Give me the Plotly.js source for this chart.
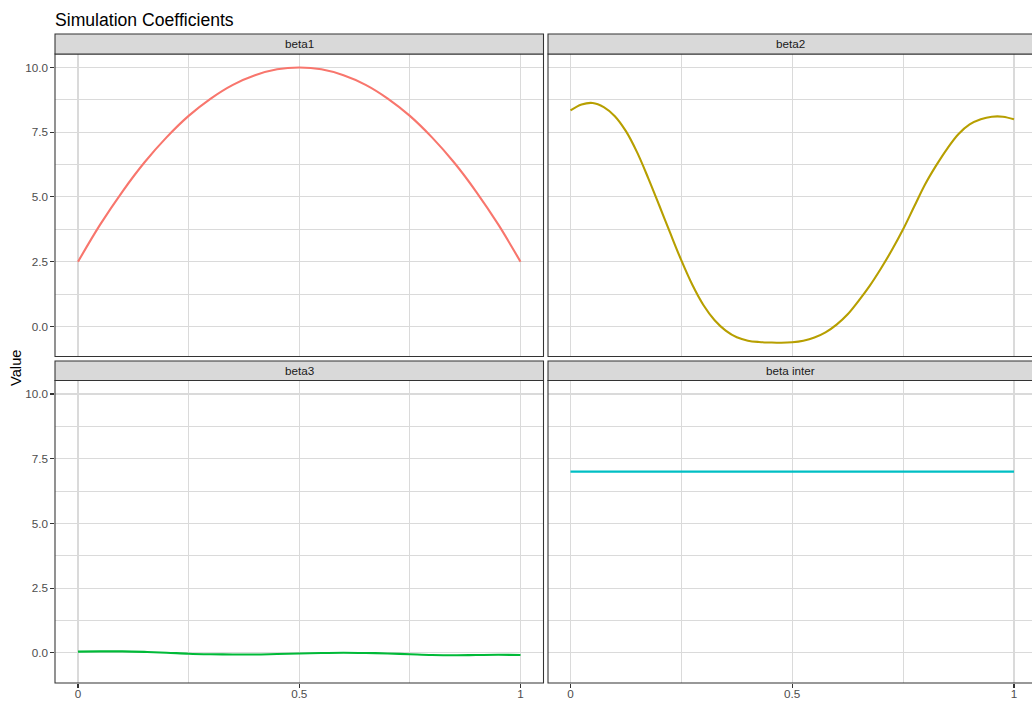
<!DOCTYPE html>
<html>
<head>
<meta charset="utf-8">
<script src="https://cdn.plot.ly/plotly-3.0.1.min.js"></script>
<style>
  html, body { margin: 0; padding: 0; background: #ffffff; }
  #chart { width: 1032px; height: 702px; }
</style>
</head>
<body>
<div id="chart"></div>
<script>
// ---- data ----
const panelNames = ["beta1", "beta2", "beta3", "beta inter"];
const xCoarse = [0, 0.05, 0.1, 0.15, 0.2, 0.25, 0.3, 0.35, 0.4, 0.45, 0.5,
                 0.55, 0.6, 0.65, 0.7, 0.75, 0.8, 0.85, 0.9, 0.95, 1];
const xFine = [0, 0.025, 0.05, 0.075, 0.1, 0.125, 0.15, 0.175, 0.2, 0.225, 0.25,
               0.275, 0.3, 0.325, 0.35, 0.375, 0.4, 0.425, 0.45, 0.475, 0.5,
               0.525, 0.55, 0.575, 0.6, 0.625, 0.65, 0.675, 0.7, 0.725, 0.75,
               0.775, 0.8, 0.825, 0.85, 0.875, 0.9, 0.925, 0.95, 0.975, 1];
const beta1 = [2.5, 3.93, 5.2, 6.33, 7.3, 8.13, 8.8, 9.33, 9.7, 9.93, 10,
               9.93, 9.7, 9.33, 8.8, 8.13, 7.3, 6.33, 5.2, 3.93, 2.5];
const beta2 = [8.34, 8.57, 8.63, 8.47, 8.12, 7.54, 6.73, 5.74, 4.68, 3.6, 2.55,
               1.6, 0.82, 0.24, -0.16, -0.42, -0.55, -0.6, -0.62, -0.63, -0.61,
               -0.55, -0.43, -0.23, 0.07, 0.47, 1.0, 1.58, 2.24, 2.96, 3.75,
               4.63, 5.5, 6.23, 6.88, 7.43, 7.8, 8.0, 8.1, 8.1, 8.0];
const beta3 = [0.05, 0.06, 0.06, 0.04, 0.01, -0.03, -0.05, -0.06, -0.06, -0.04, -0.02,
               0.0, 0.01, 0.0, -0.02, -0.05, -0.08, -0.09, -0.08, -0.07, -0.08];
const betaInter = [7, 7, 7, 7, 7, 7, 7, 7, 7, 7, 7,
                   7, 7, 7, 7, 7, 7, 7, 7, 7, 7];
const seriesColors = ["#F8766D", "#B79F00", "#00BA38", "#00BFC4"];
const yTickVals = [0, 2.5, 5, 7.5, 10];
const xTickVals = [0, 0.5, 1];
const xTickText = ["0", "0.5", "1"];

// ---- geometry ----
const W = 1032, H = 702;
const px = v => v / W;
const py = v => 1 - v / H;
const colDom = [[px(55), px(543.5)], [px(548), 1]];
const rowDom = [[py(356.5), py(54)], [py(683), py(380.5)]];
const stripDom = [[py(54), py(34)], [py(380.5), py(361)]];

const FONT = "Liberation Sans, Arial, Helvetica, sans-serif";
const gridCol = "#dadada";
const allSeries = [
  { x: xCoarse, y: beta1 },
  { x: xFine, y: beta2 },
  { x: xCoarse, y: beta3 },
  { x: xCoarse, y: betaInter }
];

const traces = allSeries.map((s, i) => ({
  type: "scatter",
  mode: "lines",
  x: s.x,
  y: s.y,
  xaxis: i === 0 ? "x" : "x" + (i + 1),
  yaxis: i === 0 ? "y" : "y" + (i + 1),
  line: { color: seriesColors[i], width: 2.1, shape: "spline", smoothing: 1 },
  hoverinfo: "skip",
  showlegend: false
}));

function xAxis(col, row) {
  const bottom = row === 1;
  const idx = row * 2 + col + 1;
  return {
    domain: colDom[col],
    anchor: "y" + (idx === 1 ? "" : idx),
    range: col === 0 ? [-0.052, 1.052] : [-0.0507, 1.0406],
    tickvals: xTickVals,
    ticktext: xTickText,
    showticklabels: bottom,
    ticks: bottom ? "outside" : "",
    ticklen: 3.7, tickwidth: 1.07, tickcolor: "#333333",
    ticklabelstandoff: -4,
    tickfont: { family: FONT, size: 11.7, color: "#4d4d4d" },
    showgrid: true, gridcolor: gridCol, gridwidth: 1.07,
    minor: { dtick: 0.25, tick0: 0, showgrid: true, gridcolor: gridCol, gridwidth: 1, ticks: "" },
    zeroline: false, showline: false, fixedrange: true
  };
}
function yAxis(col, row) {
  const left = col === 0;
  const idx = row * 2 + col + 1;
  return {
    domain: rowDom[row],
    anchor: "x" + (idx === 1 ? "" : idx),
    range: [-1.16, 10.52],
    tickvals: yTickVals,
    tickformat: ".1f",
    showticklabels: left,
    ticks: left ? "outside" : "",
    ticklen: 3.7, tickwidth: 1.07, tickcolor: "#333333",
    tickfont: { family: FONT, size: 11.7, color: "#4d4d4d" },
    showgrid: true, gridcolor: gridCol, gridwidth: 1.07,
    minor: { dtick: 1.25, tick0: 0, showgrid: true, gridcolor: gridCol, gridwidth: 1, ticks: "" },
    zeroline: false, showline: false, fixedrange: true
  };
}

const layout = {
  width: W, height: H,
  margin: { l: 0, r: 0, t: 0, b: 0, pad: 0 },
  paper_bgcolor: "#ffffff",
  plot_bgcolor: "#ffffff",
  font: { family: FONT, color: "#000000" },
  title: {
    text: "Simulation Coefficients",
    x: px(55), xanchor: "left", xref: "paper",
    y: py(20), yanchor: "middle", yref: "container",
    font: { family: FONT, size: 17.6, color: "#000000" }
  },
  shapes: [],
  annotations: []
};

for (let row = 0; row < 2; row++) {
  for (let col = 0; col < 2; col++) {
    const idx = row * 2 + col + 1;
    const s = idx === 1 ? "" : String(idx);
    layout["xaxis" + s] = xAxis(col, row);
    layout["yaxis" + s] = yAxis(col, row);
    const x0 = colDom[col][0];
    const x1 = col === 1 ? 1.01 : colDom[col][1];
    // panel border
    layout.shapes.push({
      type: "rect", xref: "paper", yref: "paper",
      x0: x0, x1: x1, y0: rowDom[row][0], y1: rowDom[row][1],
      line: { color: "#333333", width: 1.07 }, fillcolor: "rgba(0,0,0,0)", layer: "above"
    });
    // strip
    layout.shapes.push({
      type: "rect", xref: "paper", yref: "paper",
      x0: x0, x1: x1, y0: stripDom[row][0], y1: stripDom[row][1],
      line: { color: "#333333", width: 1.07 }, fillcolor: "#d9d9d9", layer: "above"
    });
    layout.annotations.push({
      xref: "paper", yref: "paper",
      x: (colDom[col][0] + colDom[col][1]) / 2,
      y: (stripDom[row][0] + stripDom[row][1]) / 2,
      xanchor: "center", yanchor: "middle",
      text: panelNames[idx - 1], showarrow: false,
      font: { family: FONT, size: 11.7, color: "#1a1a1a" }
    });
  }
}

layout.annotations.push({
  xref: "paper", yref: "paper",
  x: px(16.5), y: py(368.5),
  xanchor: "center", yanchor: "middle",
  text: "Value", textangle: -90, showarrow: false,
  font: { family: FONT, size: 14.7, color: "#000000" }
});

Plotly.newPlot("chart", traces, layout, { staticPlot: true, displayModeBar: false });
</script>
</body>
</html>
